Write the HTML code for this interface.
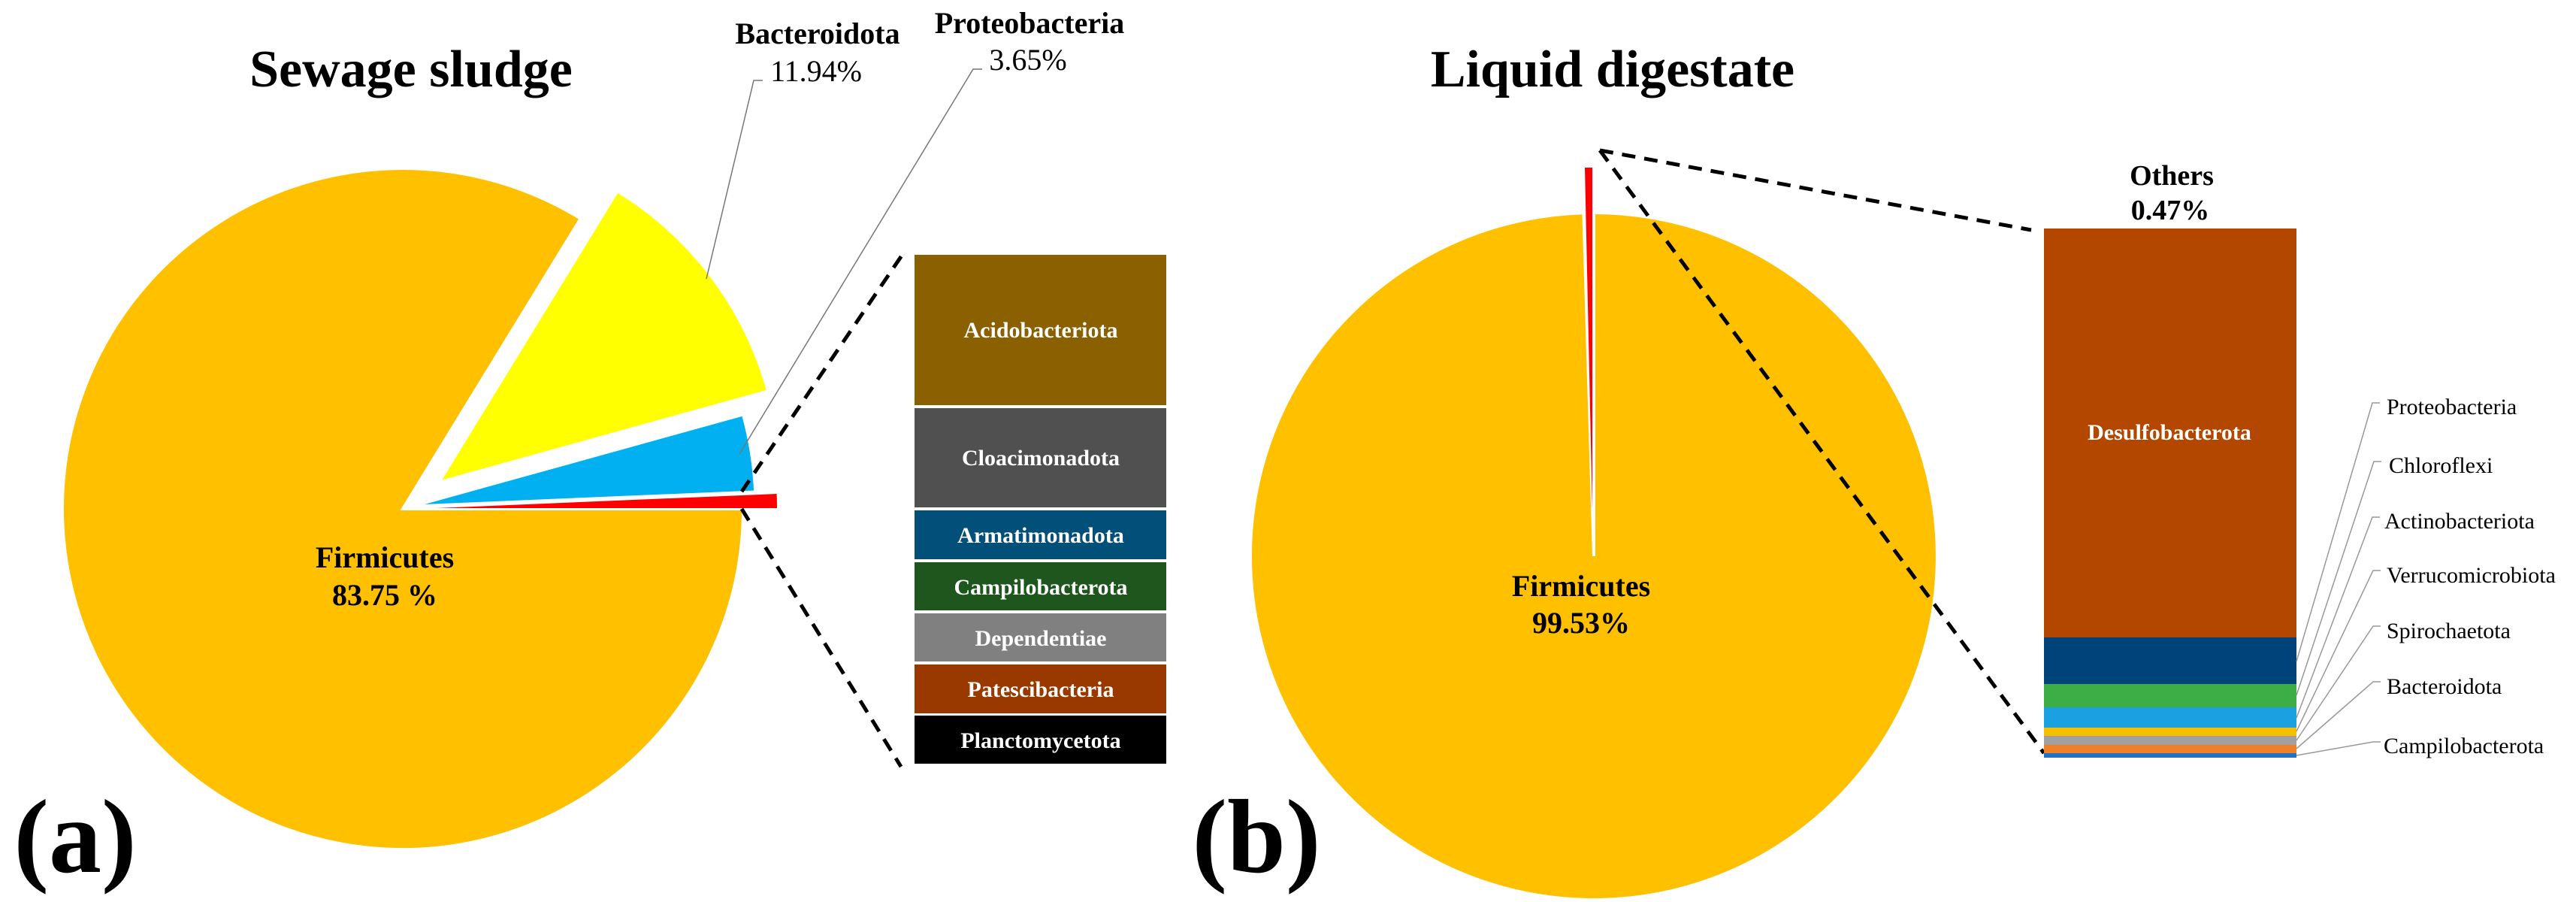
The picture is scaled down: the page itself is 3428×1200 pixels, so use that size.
<!DOCTYPE html>
<html><head><meta charset="utf-8"><style>
html,body{margin:0;padding:0;background:#fff;}
svg{display:block;}
text{font-family:"Liberation Serif",serif;}
</style></head><body>
<svg width="3428" height="1200" viewBox="0 0 3428 1200" xmlns="http://www.w3.org/2000/svg">
<!-- Left pie -->
<path d="M536,677 L772.7,290.8 A453,453 0 1 0 989,677 Z" fill="#FFC000" stroke="#fff" stroke-width="4"/>
<path d="M585,641 L1021.5,520 A453,453 0 0 0 821.7,254.8 Z" fill="#FFFF00" stroke="#fff" stroke-width="3"/>
<path d="M552,673 L1004.6,654 A453,453 0 0 0 988.5,552 Z" fill="#00B0F0" stroke="#fff" stroke-width="3"/>
<path d="M581,676 L1034,676 A453,453 0 0 0 1033.6,657 Z" fill="#FF0000"/>
<text x="547" y="115" font-size="70" font-weight="bold" text-anchor="middle">Sewage sludge</text>
<text x="100" y="1160" font-size="140" font-weight="bold" text-anchor="middle">(a)</text>
<text x="512" y="755" font-size="40" font-weight="bold" text-anchor="middle">Firmicutes</text>
<text x="512" y="805" font-size="40" font-weight="bold" text-anchor="middle">83.75 %</text>
<text x="1088" y="58" font-size="40" font-weight="bold" text-anchor="middle">Bacteroidota</text>
<text x="1086" y="108" font-size="40" text-anchor="middle">11.94%</text>
<text x="1370" y="44" font-size="40" font-weight="bold" text-anchor="middle">Proteobacteria</text>
<text x="1368" y="93" font-size="40" text-anchor="middle">3.65%</text>
<polyline points="1015,107 1003,107 940,371" fill="none" stroke="#777" stroke-width="1.5"/>
<polyline points="1307,92 1295,92 984,604" fill="none" stroke="#777" stroke-width="1.5"/>
<line x1="987" y1="654" x2="1202" y2="337" stroke="#000" stroke-width="5" stroke-dasharray="18,12"/>
<line x1="987" y1="677" x2="1199" y2="1020" stroke="#000" stroke-width="5" stroke-dasharray="18,12"/>
<g font-size="30" font-weight="bold" fill="#fff" text-anchor="middle">
<rect x="1217" y="339" width="335" height="200" fill="#8A6000"/>
<text x="1385" y="449">Acidobacteriota</text>
<rect x="1217" y="543" width="335" height="132" fill="#505050"/>
<text x="1385" y="619">Cloacimonadota</text>
<rect x="1217" y="679" width="335" height="65" fill="#024F7A"/>
<text x="1385" y="722">Armatimonadota</text>
<rect x="1217" y="748" width="335" height="64" fill="#1E561E"/>
<text x="1385" y="791">Campilobacterota</text>
<rect x="1217" y="816" width="335" height="64" fill="#808080"/>
<text x="1385" y="859">Dependentiae</text>
<rect x="1217" y="884" width="335" height="65" fill="#993900"/>
<text x="1385" y="927">Patescibacteria</text>
<rect x="1217" y="952" width="335" height="64" fill="#000"/>
<text x="1385" y="995">Planctomycetota</text>
</g>
<!-- Right pie -->
<path d="M2121,740 L2107.4,283.2 A457,457 0 1 0 2121,283 Z" fill="#FFC000" stroke="#fff" stroke-width="4"/>
<path d="M2119,680 L2109,223 L2119,223 Z" fill="#FF0000"/>
<text x="2146" y="115" font-size="70" font-weight="bold" text-anchor="middle">Liquid digestate</text>
<text x="1672" y="1160" font-size="140" font-weight="bold" text-anchor="middle">(b)</text>
<text x="2104" y="793" font-size="40" font-weight="bold" text-anchor="middle">Firmicutes</text>
<text x="2104" y="842" font-size="40" font-weight="bold" text-anchor="middle">99.53%</text>
<line x1="2129" y1="200" x2="2703" y2="306" stroke="#000" stroke-width="5" stroke-dasharray="18,12"/>
<line x1="2129" y1="200" x2="2720" y2="1002" stroke="#000" stroke-width="5" stroke-dasharray="18,12"/>
<text x="2890" y="246" font-size="38" font-weight="bold" text-anchor="middle">Others</text>
<text x="2888" y="292" font-size="38" font-weight="bold" text-anchor="middle">0.47%</text>
<rect x="2720" y="304" width="336" height="544" fill="#B34700"/>
<text x="2887" y="585" font-size="30" font-weight="bold" fill="#fff" text-anchor="middle">Desulfobacterota</text>
<rect x="2720" y="848" width="336" height="62" fill="#00427A"/>
<rect x="2720" y="910" width="336" height="31" fill="#3DAE46"/>
<rect x="2720" y="941" width="336" height="27" fill="#1BA1E2"/>
<rect x="2720" y="968" width="336" height="11" fill="#F5C000"/>
<rect x="2720" y="979" width="336" height="12" fill="#A0A0A0"/>
<rect x="2720" y="991" width="336" height="11" fill="#F07F2A"/>
<rect x="2720" y="1002" width="336" height="6" fill="#2370C8"/>
<g fill="none" stroke="#999" stroke-width="1.5">
<polyline points="3056,880 3157,536 3167,536"/>
<polyline points="3056,925 3159,614 3169,614"/>
<polyline points="3056,955 3157,688 3167,688"/>
<polyline points="3056,973 3158,759 3168,759"/>
<polyline points="3056,985 3158,833 3168,833"/>
<polyline points="3056,996 3158,907 3168,907"/>
<polyline points="3056,1005 3158,987 3168,987"/>
</g>
<g font-size="30" fill="#000">
<text x="3176" y="551">Proteobacteria</text>
<text x="3179" y="629">Chloroflexi</text>
<text x="3173" y="703">Actinobacteriota</text>
<text x="3176" y="775">Verrucomicrobiota</text>
<text x="3176" y="849">Spirochaetota</text>
<text x="3176" y="923">Bacteroidota</text>
<text x="3172" y="1002">Campilobacterota</text>
</g>
</svg>
</body></html>
